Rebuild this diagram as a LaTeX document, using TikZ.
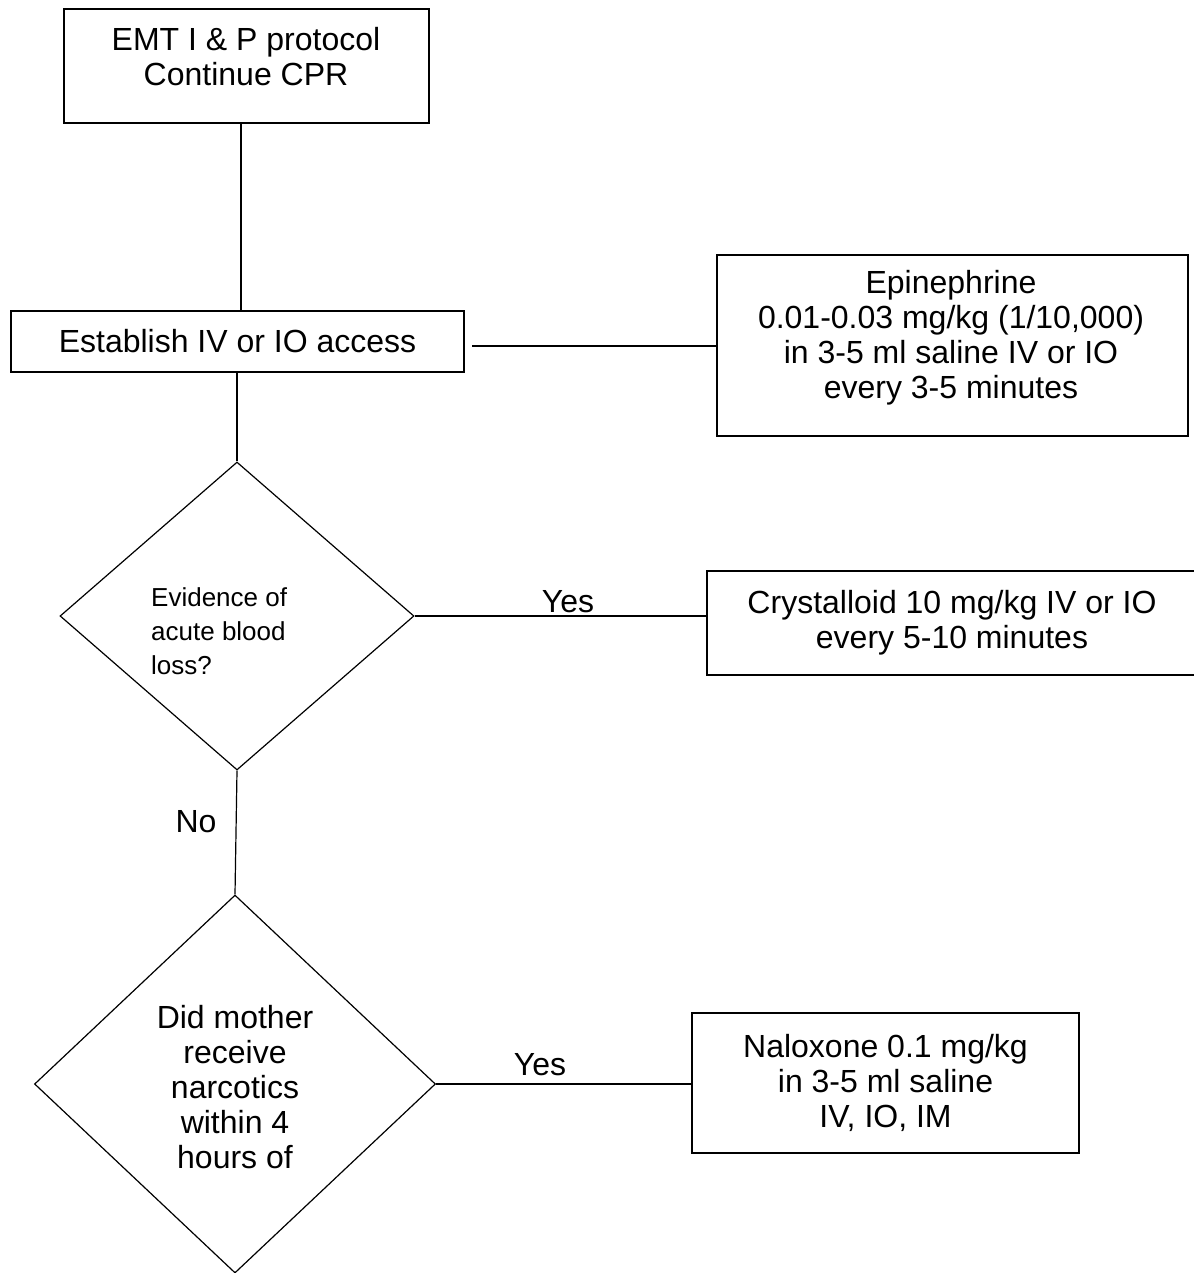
\documentclass[tikz,border=0pt]{standalone}
\usepackage{fontspec}
\setmainfont{Liberation Sans}
\usetikzlibrary{shapes.geometric}
\begin{document}
\begin{tikzpicture}[x=1pt,y=-1pt,
  box/.style={draw, line width=2pt, inner sep=0pt, anchor=north west},
  dia/.style={draw, diamond, line width=1.2pt, inner sep=0pt},
  txt/.style={align=center, font=\fontsize{32}{35}\selectfont, inner sep=0pt},
  lbl/.style={font=\fontsize{32}{35}\selectfont, inner sep=0pt},
  conn/.style={line width=2pt},
  thinconn/.style={line width=1.2pt}]
\useasboundingbox[fill=white] (0,0) rectangle (1193,1273);

% boxes
\node[box, minimum width=365pt, minimum height=114pt] (top) at (63,8) {};
\node[txt] (toptxt) at (246,57) {EMT I \& P protocol\\Continue CPR};

\node[box, txt, minimum width=453pt, minimum height=61pt] (est) at (10,310) {Establish IV or IO access};

\node[box, minimum width=471pt, minimum height=181pt] (epi) at (716,254) {};
\node[txt] (epitxt) at (951,338) {Epinephrine\\0.01-0.03 mg/kg (1/10,000)\\in 3-5 ml saline IV or IO\\every 3-5 minutes};

\node[box, txt, minimum width=490pt, minimum height=104pt] (crys) at (706,570) {Crystalloid 10 mg/kg IV or IO\\every 5-10 minutes};

\node[box, txt, minimum width=387pt, minimum height=140pt] (nal) at (691,1012) {Naloxone 0.1 mg/kg\\in 3-5 ml saline\\IV, IO, IM};

% decisions
\node[dia, minimum width=354pt, minimum height=308pt] (d1) at (237,616) {};
\node[align=left, font=\fontsize{26}{34}\selectfont, anchor=west, inner sep=0pt] (d1txt) at (151,631) {Evidence of\\acute blood\\loss?};

\node[dia, minimum width=401pt, minimum height=378pt] (d2) at (235,1084) {};
\node[txt] (d2txt) at (235,1087) {Did mother\\receive\\narcotics\\within 4\\hours of};

% labels
\node[lbl] (yes1) at (568,602) {Yes};
\node[lbl] (no) at (196,822) {No};
\node[lbl] (yes2) at (540,1065) {Yes};

% connectors
\draw[conn] ([xshift=-5.5pt]top.south) -- ([xshift=-5.5pt]top.south |- est.north);
\draw[conn] (est.south -| d1.north) -- (d1.north);
\draw[conn] ([xshift=7pt]est.east |- epi.west) -- (epi.west);
\draw[conn] (d1.east) -- (d1.east -| crys.west);
\draw[thinconn] (d1.south) -- (d2.north);
\draw[conn] (d2.east) -- (d2.east -| nal.west);
\end{tikzpicture}
\end{document}
